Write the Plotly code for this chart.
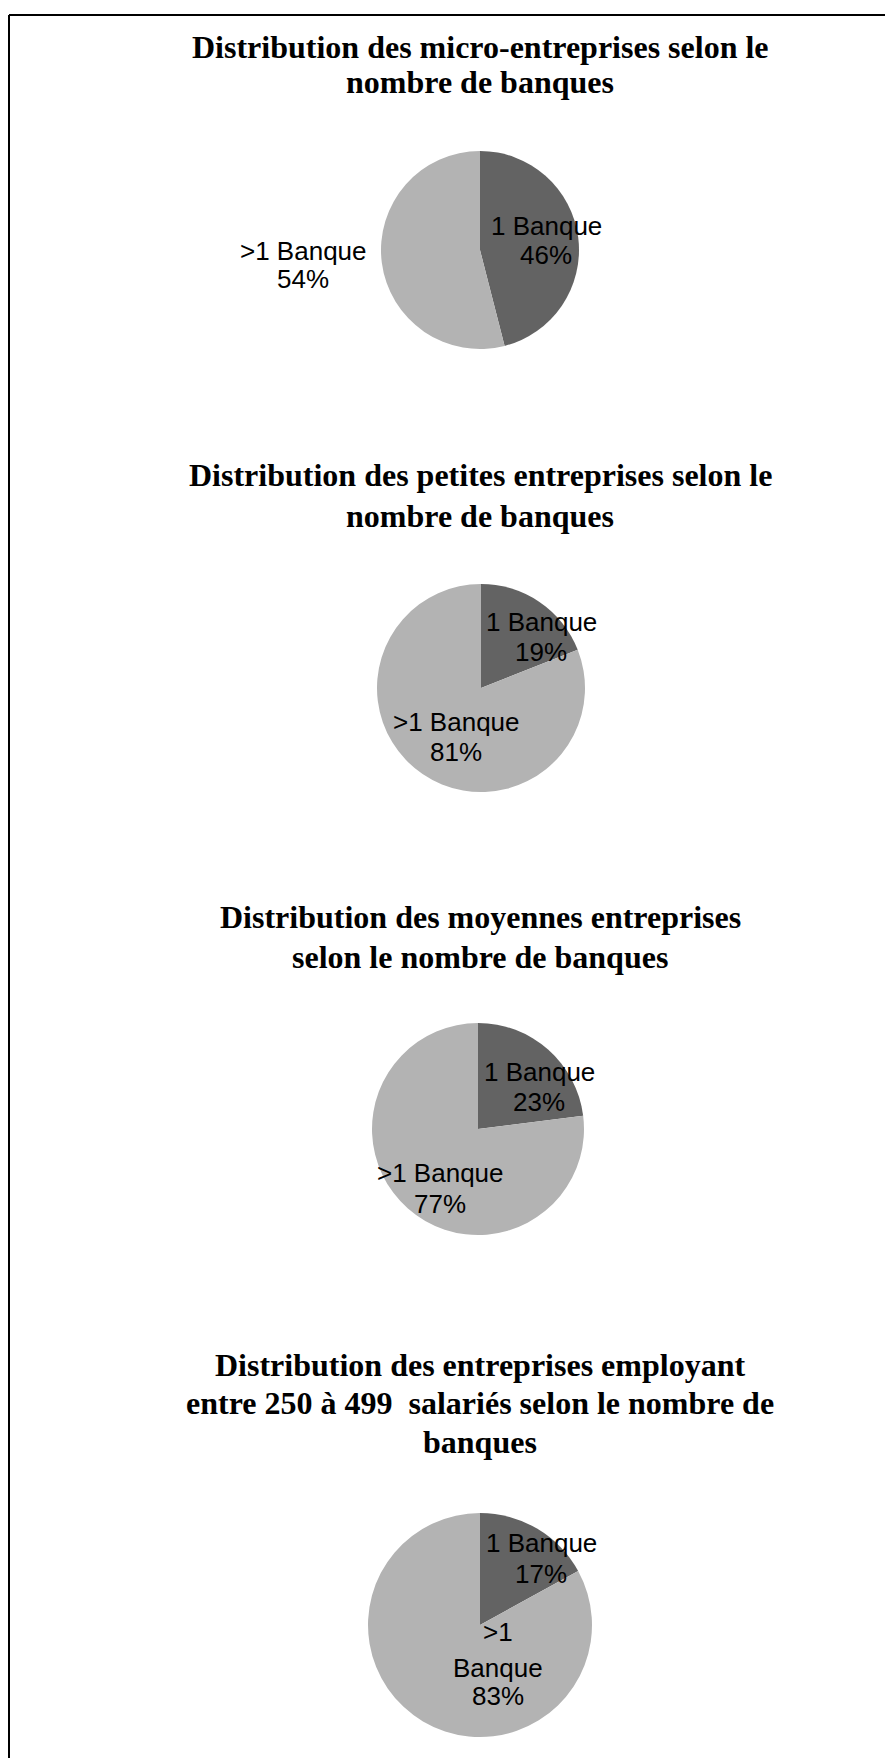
import plotly.graph_objects as go

# ---- data ----
categories = ["1 Banque", ">1 Banque"]
titles = [
    ["Distribution des micro-entreprises selon le", "nombre de banques"],
    ["Distribution des petites entreprises selon le", "nombre de banques"],
    ["Distribution des moyennes entreprises", "selon le nombre de banques"],
    ["Distribution des entreprises employant", "entre 250 à 499  salariés selon le nombre de", "banques"],
]
micro = [46, 54]
petites = [19, 81]
moyennes = [23, 77]
e250_499 = [17, 83]
series = [micro, petites, moyennes, e250_499]

# ---- layout geometry (window pixels; page body adds an 8px offset) ----
OFF = 8
W, H = 893 - OFF, 1758 - OFF


def px(x):
    return (x - OFF) / W


def py(y):
    return 1 - (y - OFF) / H


pie_centers = [(480, 250), (481, 688), (478, 1129), (480, 1625)]
pie_radius = [99, 104, 106, 112]
title_lines_y = [[47, 82], [475, 516], [917, 957], [1365, 1403, 1442]]
label_pos = [
    [(546, [226, 255]), (303, [251, 279])],
    [(541, [622, 652]), (456, [722, 752])],
    [(539, [1072, 1102]), (440, [1173, 1204])],
    [(541, [1543, 1574]), (498, [1632, 1668, 1696])],
]
label_lines = [
    [None, None],
    [None, None],
    [None, None],
    [None, [">1", "Banque"]],
]

dark = "#636363"
light = "#b3b3b3"

fig = go.Figure()
annotations = []
for i, vals in enumerate(series):
    cx, cy = pie_centers[i]
    r = pie_radius[i]
    fig.add_trace(go.Pie(
        labels=categories,
        values=vals,
        sort=False,
        direction="clockwise",
        rotation=0,
        textinfo="none",
        hoverinfo="label+percent",
        marker=dict(colors=[dark, light], line=dict(width=0)),
        showlegend=False,
        domain=dict(x=[px(cx - r), px(cx + r)], y=[py(cy + r), py(cy - r)]),
    ))
    for line, y in zip(titles[i], title_lines_y[i]):
        annotations.append(dict(
            text=line, x=px(480), y=py(y), xref="paper", yref="paper",
            xanchor="center", yanchor="middle", showarrow=False,
            font=dict(family="Liberation Serif", size=32, color="black", weight="bold"),
        ))
    for j, cat in enumerate(categories):
        x, ys = label_pos[i][j]
        lines = label_lines[i][j] or [cat]
        lines = lines + [f"{vals[j]}%"]
        for line, y in zip(lines, ys):
            annotations.append(dict(
                text=line, x=px(x), y=py(y), xref="paper", yref="paper",
                xanchor="center", yanchor="middle", showarrow=False,
                font=dict(family="Liberation Sans", size=26, color="black"),
            ))

shapes = [
    dict(type="line", xref="paper", yref="paper", x0=px(9), x1=1.0, y0=py(15), y1=py(15),
         line=dict(color="black", width=2)),
    dict(type="line", xref="paper", yref="paper", x0=px(9), x1=px(9), y0=0, y1=py(15),
         line=dict(color="black", width=2)),
]

fig.update_layout(
    width=W, height=H,
    margin=dict(l=0, r=0, t=0, b=0),
    paper_bgcolor="white",
    plot_bgcolor="white",
    annotations=annotations,
    shapes=shapes,
)

fig.write_html("out.html")
